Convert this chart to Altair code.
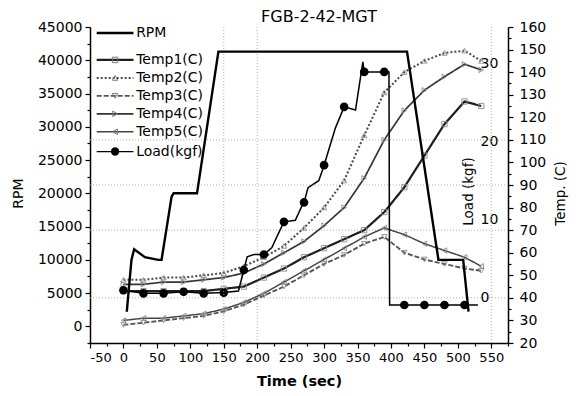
import altair as alt
import pandas as pd

# ---------------- text ----------------
chart_title = "FGB-2-42-MGT"
x_title = "Time (sec)"
rpm_title = "RPM"
temp_title = "Temp. (C)"
load_title = "Load (kgf)"

# ---------------- ticks / grid ----------------
x_ticks = list(range(-50, 576, 25))
rpm_ticks = list(range(-2500, 45001, 2500))
temp_ticks = list(range(20, 161, 5))
load_ticks = [0, 10, 20, 30]
grid_t = [150, 200, 550]
grid_temp = [40, 70, 90, 110]

# ---------------- RPM ----------------
rpm_t = [5, 12, 16, 32, 52, 57, 72, 75, 110, 142, 424, 471, 508, 516]
rpm_v = [2200, 10000, 11600, 10400, 10000, 10000, 19500, 20000, 20000, 41300, 41300, 10000, 10000, 2200]

# ---------------- Temperatures ----------------
temp_t = [0, 30, 60, 90, 120, 150, 180, 210, 240, 270, 300, 330, 360, 390, 420, 450, 480, 510, 535]
temp1 = [43, 43, 43, 43, 43, 44, 45, 49, 53, 58, 62, 66, 70, 78, 89, 103, 117, 127, 125]
temp2 = [48, 48, 49, 49, 50, 51, 54, 58, 63, 71, 80, 92, 112, 131, 140, 145, 148.5, 149.5, 145]
temp3 = [28, 29, 30, 31, 32, 34, 37, 41, 45, 50, 55, 59, 64, 67, 60, 57, 55, 53, 52]
temp4 = [46, 46, 47, 47, 48, 49, 51, 55, 60, 65, 72, 80, 93, 110, 123, 132, 138, 143.5, 141]
temp5 = [30, 31, 31, 32, 33, 35, 38, 42, 47, 52, 57, 62, 67, 71, 68, 64, 61, 58, 54]

# ---------------- Load ----------------
load_t = [0, 30, 60, 90, 120, 150, 172, 180, 185, 195, 210, 222, 230, 240, 257, 266, 270, 276,
          292, 297, 300, 317, 330, 347, 358, 360, 390, 397, 398, 420, 450, 480, 510, 530]
load_v = [1.9, 1.5, 1.5, 1.7, 1.5, 1.6, 1.8, 4.5, 6.2, 6.5, 6.5, 7.4, 8.9, 10.7, 10.9, 12.6, 13.2, 15.1,
          16.0, 17.2, 18.0, 22.8, 25.5, 25.1, 31.3, 30.0, 30.0, 30.0, 0, 0, 0, 0, 0, 0]
load_mark_t = [0, 30, 60, 90, 120, 150, 180, 210, 240, 270, 300, 330, 360, 390, 420, 450, 480, 510]
load_mark_v = [1.9, 1.5, 1.5, 1.7, 1.5, 1.6, 4.5, 6.5, 10.7, 13.2, 18.0, 25.5, 30.0, 30.0, 0, 0, 0, 0]

# ---------------- series / legend ----------------
series_names = ["RPM", "Temp1(C)", "Temp2(C)", "Temp3(C)", "Temp4(C)", "Temp5(C)", "Load(kgf)"]
temp_names = series_names[1:6]
legend_rows = [0, 1.5, 2.5, 3.5, 4.5, 5.5, 6.6]

# styles
series_colors = ["#000000", "#1e1e1e", "#4a4a4a", "#555555", "#333333", "#444444", "#000000"]
series_widths = [2.4, 1.3, 1.0, 1.0, 1.1, 1.0, 1.5]
series_dash = [[1, 0], [1, 0], [2, 2], [5, 2], [1, 0], [1, 0], [1, 0]]
temp_shapes = ["square", "triangle-up", "triangle-down", "triangle-right", "triangle-left"]
FONT = "DejaVu Sans"

# legend placement in data space (time / RPM)
leg_x0, leg_x1, leg_xm, leg_xt = -40, 15, -12.5, 19
leg_top, leg_step = 44100, 2700

# ---------------- frames ----------------
rpm_df = pd.DataFrame({"t": rpm_t, "rpm": rpm_v})
temp_series = [temp1, temp2, temp3, temp4, temp5]
temp_df = pd.DataFrame(
    [{"t": t, "T": v, "name": n} for n, vals in zip(temp_names, temp_series) for t, v in zip(temp_t, vals)]
)
load_df = pd.DataFrame({"t": load_t, "L": load_v})
loadm_df = pd.DataFrame({"t": load_mark_t, "L": load_mark_v})
leg_df = pd.DataFrame({"name": series_names, "row": legend_rows})
leg_df["ly"] = leg_top - leg_df["row"] * leg_step
leg_df["lx0"] = leg_x0
leg_df["lx1"] = leg_x1
leg_df["lxm"] = leg_xm
leg_df["lxt"] = leg_xt

# ---------------- scales / axes ----------------
xs = alt.Scale(domain=[-50, 575], nice=False, zero=False)
rs = alt.Scale(domain=[-2500, 45000], nice=False, zero=False)
ts = alt.Scale(domain=[20, 160], nice=False, zero=False)
ls = alt.Scale(domain=[-4.89, 35.78], nice=False, zero=False)

color_scale = alt.Scale(domain=series_names, range=series_colors)
size_scale = alt.Scale(domain=series_names, range=series_widths)
dash_scale = alt.Scale(domain=series_names, range=series_dash)
shape_scale = alt.Scale(domain=temp_names, range=temp_shapes)


def tick_size(step):
    return {"condition": {"test": f"datum.value % {step} === 0", "value": 5}, "value": 3}


def label_expr(step):
    return f"datum.value % {step} === 0 ? '' + datum.value : ''"


x_axis = alt.Axis(title=x_title, values=x_ticks, labelExpr=label_expr(50),
                  tickSize=tick_size(50), labelFontSize=13, labelPadding=3,
                  titleFontSize=14.5, titleFontWeight="bold", titlePadding=10)
rpm_axis = alt.Axis(orient="left", title=rpm_title, values=rpm_ticks,
                    labelExpr=label_expr(5000), tickSize=tick_size(5000), labelFontSize=14,
                    labelPadding=3, titleFontSize=14, titleFontWeight="normal", titleAngle=270,
                    titleX=-72, titleY=166, titleAlign="center", titleBaseline="middle")
temp_axis = alt.Axis(orient="right", title=temp_title, values=temp_ticks,
                     labelExpr=label_expr(10), tickSize=tick_size(10), labelFontSize=14,
                     labelPadding=6, titleFontSize=13.5, titleFontWeight="normal", titleAngle=270,
                     titleX=52, titleY=166, titleAlign="center", titleBaseline="middle")
load_axis = alt.Axis(orient="right", offset=-30, title=load_title, values=load_ticks,
                     labelExpr="'' + datum.value",
                     ticks=False, tickSize=0, domain=False, labelFontSize=14, labelPadding=2,
                     labelOffset=-8, titleFontSize=13.5, titleFontWeight="normal", titleAngle=270,
                     titleX=-10, titleY=164, titleAlign="center", titleBaseline="middle")


def X(field):
    return alt.X(field, type="quantitative", scale=xs, axis=x_axis)


# ---------------- RPM group (with grid & legend) ----------------
vgrid = alt.Chart(pd.DataFrame({"t": grid_t})).mark_rule(
    color="#a8a8a8", strokeDash=[1, 2], strokeWidth=0.9
).encode(x=X("t"))

rpm_line = alt.Chart(rpm_df).mark_line(color="black", strokeWidth=2.4).encode(
    x=X("t"), y=alt.Y("rpm:Q", scale=rs, axis=rpm_axis)
)

leg_rules = alt.Chart(leg_df).mark_rule().encode(
    x=X("lx0"), x2="lx1",
    y=alt.Y("ly:Q", scale=rs, axis=rpm_axis),
    color=alt.Color("name:N", scale=color_scale, legend=None),
    size=alt.Size("name:N", scale=size_scale, legend=None),
    strokeDash=alt.StrokeDash("name:N", scale=dash_scale, legend=None),
)
leg_tpts = alt.Chart(leg_df[leg_df["name"].isin(temp_names)]).mark_point(
    filled=False, color="#7a7a7a", size=30, strokeWidth=1, opacity=1
).encode(
    x=X("lxm"), y=alt.Y("ly:Q", scale=rs, axis=rpm_axis),
    shape=alt.Shape("name:N", scale=shape_scale, legend=None),
)
leg_lpt = alt.Chart(leg_df[leg_df["name"] == "Load(kgf)"]).mark_point(
    filled=True, color="black", size=70, opacity=1, shape="circle"
).encode(x=X("lxm"), y=alt.Y("ly:Q", scale=rs, axis=rpm_axis))
leg_text = alt.Chart(leg_df).mark_text(
    align="left", baseline="middle", font=FONT, fontSize=14, color="black"
).encode(x=X("lxt"), y=alt.Y("ly:Q", scale=rs, axis=rpm_axis), text="name:N")

rpm_group = alt.layer(vgrid, rpm_line, leg_rules, leg_tpts, leg_lpt, leg_text)

# ---------------- Temperature group ----------------
hgrid = alt.Chart(pd.DataFrame({"T": grid_temp})).mark_rule(
    color="#a8a8a8", strokeDash=[1, 2], strokeWidth=0.9
).encode(y=alt.Y("T:Q", scale=ts, axis=temp_axis))

temp_lines = alt.Chart(temp_df).mark_line().encode(
    x=X("t"), y=alt.Y("T:Q", scale=ts, axis=temp_axis),
    color=alt.Color("name:N", scale=color_scale, legend=None),
    size=alt.Size("name:N", scale=size_scale, legend=None),
    strokeDash=alt.StrokeDash("name:N", scale=dash_scale, legend=None),
)
temp_pts = alt.Chart(temp_df).mark_point(
    filled=False, color="#8a8a8a", size=28, strokeWidth=0.9, opacity=1
).encode(
    x=X("t"), y=alt.Y("T:Q", scale=ts, axis=temp_axis),
    shape=alt.Shape("name:N", scale=shape_scale, legend=None),
)
temp_group = alt.layer(hgrid, temp_lines, temp_pts)

# ---------------- Load group ----------------
load_line = alt.Chart(load_df).mark_line(color="black", strokeWidth=1.5).encode(
    x=X("t"), y=alt.Y("L:Q", scale=ls, axis=load_axis)
)
load_pts = alt.Chart(loadm_df).mark_point(
    filled=True, color="black", size=75, opacity=1, shape="circle"
).encode(x=X("t"), y=alt.Y("L:Q", scale=ls, axis=load_axis))
load_group = alt.layer(load_line, load_pts)

chart = (
    alt.layer(temp_group, load_group, rpm_group)
    .resolve_scale(y="independent")
    .properties(
        width=418, height=316,
        autosize=alt.AutoSizeParams(type="none"),
        padding={"left": 82, "top": 19, "right": 65, "bottom": 55},
        title=alt.TitleParams(text=chart_title, font=FONT, fontSize=16, fontWeight="normal",
                              anchor="middle", dx=20, dy=12, offset=7, frame="group", color="black"),
    )
    .configure_view(stroke=None)
    .configure_axis(labelFont=FONT, titleFont=FONT, labelColor="black", titleColor="black",
                    domainColor="black", tickColor="black", domainWidth=1.5, tickWidth=1.2,
                    grid=False)
)

chart.save("out.html", embed_options={"renderer": "svg", "actions": False})
